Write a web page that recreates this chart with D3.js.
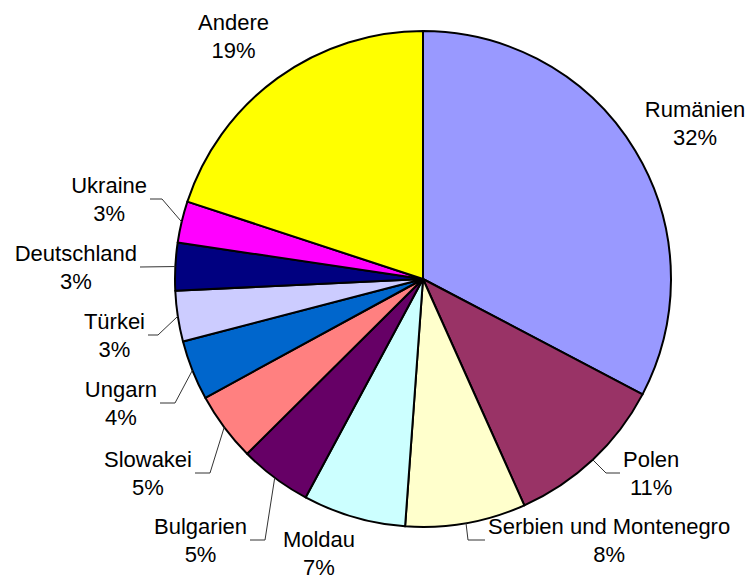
<!DOCTYPE html>
<html>
<head>
<meta charset="utf-8">
<script src="https://cdn.jsdelivr.net/npm/d3@7"></script>
<style>
  body { margin: 0; background: #fff; }
  svg text { font-family: "Liberation Sans", Arial, sans-serif; font-size: 22px; fill: #000; }
</style>
</head>
<body>
<div id="chart"></div>
<script>
// slice data, clockwise from 12 o'clock
const names = ["Rumänien", "Polen", "Serbien und Montenegro", "Moldau", "Bulgarien",
  "Slowakei", "Ungarn", "Türkei", "Deutschland", "Ukraine", "Andere"];
const values = [32.7, 10.6, 7.85, 6.7, 4.7, 4.5, 3.9, 3.3, 3.1, 2.7, 19.95];
const pctLabels = ["32%", "11%", "8%", "7%", "5%", "5%", "4%", "3%", "3%", "3%", "19%"];
const colors = ["#9999FF", "#993366", "#FFFFCC", "#CCFFFF", "#660066",
  "#FF8080", "#0066CC", "#CCCCFF", "#000080", "#FF00FF", "#FFFF00"];

// label layout: x,y = end of leader line (or centre of label), elbowX = bend of leader
const labelLayout = [
  { side: "none", x: 695, y: 123.5 },
  { side: "right", x: 620, y: 473, elbowX: 606 },
  { side: "right", x: 485, y: 540, elbowX: 468 },
  { side: "none", x: 319, y: 553.5 },
  { side: "left", x: 250, y: 540, elbowX: 265 },
  { side: "left", x: 195, y: 473, elbowX: 210 },
  { side: "left", x: 160, y: 403, elbowX: 175 },
  { side: "left", x: 148, y: 335, elbowX: 158 },
  { side: "left", x: 140, y: 267, elbowX: 140 },
  { side: "left", x: 150, y: 199, elbowX: 162 },
  { side: "none", x: 233.5, y: 36.5 }
];

const width = 750, height = 581;
const cx = 423, cy = 279, radius = 248;
const lineGap = 28, gap = 3;

const svg = d3.select("#chart").append("svg")
  .attr("width", width)
  .attr("height", height);

const data = names.map((n, i) => ({ name: n, value: values[i], pct: pctLabels[i], color: colors[i], layout: labelLayout[i] }));

const pie = d3.pie().sort(null).value(d => d.value);
const arcs = pie(data);

const arc = d3.arc().innerRadius(0).outerRadius(radius);
const edgeArc = d3.arc().innerRadius(radius).outerRadius(radius);

const g = svg.append("g").attr("transform", `translate(${cx},${cy})`);

g.selectAll("path.slice")
  .data(arcs)
  .enter()
  .append("path")
  .attr("class", "slice")
  .attr("d", arc)
  .attr("fill", d => d.data.color)
  .attr("stroke", "#000")
  .attr("stroke-width", 2)
  .attr("stroke-linejoin", "round");

// leader lines
const withLeader = arcs.filter(d => d.data.layout.side !== "none");
svg.selectAll("polyline.leader")
  .data(withLeader)
  .enter()
  .append("polyline")
  .attr("class", "leader")
  .attr("points", d => {
    const p = edgeArc.centroid(d);
    const L = d.data.layout;
    return [[p[0] + cx, p[1] + cy], [L.elbowX, L.y], [L.x, L.y]].map(q => q.join(",")).join(" ");
  })
  .attr("fill", "none")
  .attr("stroke", "#333")
  .attr("stroke-width", 1);

// labels
const labels = svg.selectAll("g.label")
  .data(arcs)
  .enter()
  .append("g")
  .attr("class", "label");

labels.each(function (d) {
  const grp = d3.select(this);
  const L = d.data.layout;
  const t1 = grp.append("text").attr("text-anchor", "middle").attr("y", L.y - 6.5).text(d.data.name);
  const t2 = grp.append("text").attr("text-anchor", "middle").attr("y", L.y - 6.5 + lineGap).text(d.data.pct);
  const w = Math.max(t1.node().getComputedTextLength(), t2.node().getComputedTextLength());
  let x = L.x;
  if (L.side === "right") x = L.x + gap + w / 2;
  if (L.side === "left") x = L.x - gap - w / 2;
  t1.attr("x", x);
  t2.attr("x", x);
});
</script>
</body>
</html>
